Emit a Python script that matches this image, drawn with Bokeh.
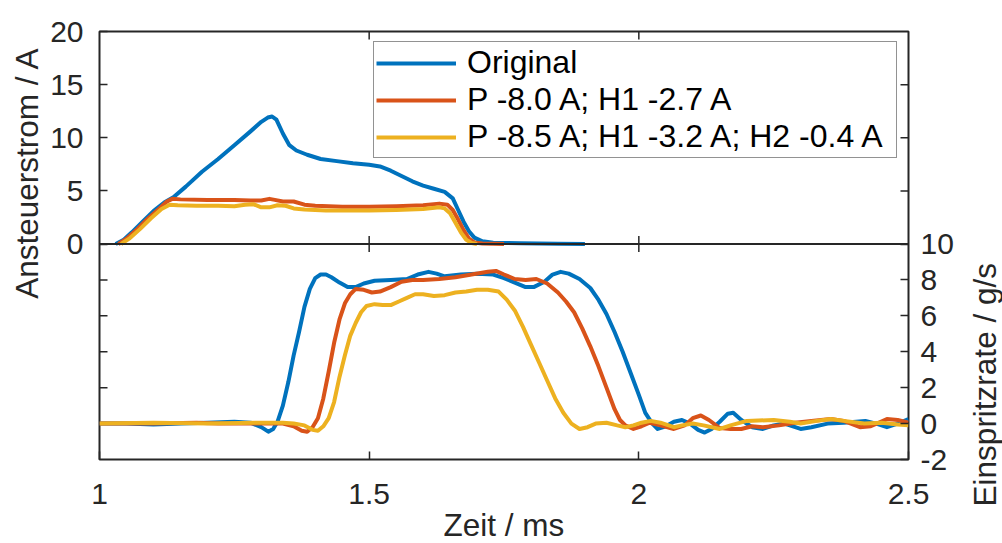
from bokeh.plotting import figure
from bokeh.models import (LinearAxis, Range1d, FixedTicker, Legend, LegendItem, Span,
                          CustomJSTickFormatter)
from bokeh.layouts import row
from bokeh.core.properties import value
from bokeh.embed import file_html
from bokeh.resources import INLINE

# ---------------- data ----------------
series_names = ["Original", "P -8.0 A; H1 -2.7 A", "P -8.5 A; H1 -3.2 A; H2 -0.4 A"]
colors = ["#0072BD", "#D95319", "#EDB120"]
y_title_top = "Ansteuerstrom / A"
y_title_bottom = "Einspritzrate / g/s"
x_title = "Zeit / ms"

# Ansteuerstrom (A) vs Zeit (ms)
t_cur_orig = [1.03, 1.045, 1.06, 1.08, 1.10, 1.12, 1.137, 1.16, 1.19, 1.22, 1.25, 1.28, 1.30, 1.312,
              1.32, 1.328, 1.34, 1.352, 1.365, 1.385, 1.41, 1.44, 1.47, 1.50, 1.52, 1.54, 1.56, 1.58, 1.60,
              1.62, 1.64, 1.655, 1.665, 1.675, 1.685, 1.695, 1.71, 1.73, 1.78, 1.85, 1.90]
i_orig = [0.0, 0.4, 1.1, 2.1, 3.1, 3.9, 4.4, 5.4, 6.8, 8.0, 9.3, 10.6, 11.5, 11.9,
          12.0, 11.7, 10.4, 9.3, 8.8, 8.4, 8.0, 7.8, 7.6, 7.45, 7.3, 6.9, 6.4, 5.9, 5.5,
          5.2, 4.9, 4.3, 3.2, 2.1, 1.2, 0.6, 0.25, 0.12, 0.06, 0.02, 0.0]

t_cur_p80 = [1.035, 1.05, 1.07, 1.09, 1.11, 1.125, 1.135, 1.15, 1.20, 1.25, 1.28, 1.30, 1.315, 1.325,
             1.34, 1.36, 1.38, 1.40, 1.45, 1.50, 1.55, 1.60, 1.63, 1.645, 1.655, 1.665, 1.675, 1.685,
             1.695, 1.71, 1.75]
i_p80 = [0.0, 0.5, 1.4, 2.4, 3.3, 4.0, 4.25, 4.2, 4.15, 4.15, 4.1, 4.1, 4.25, 4.15,
         4.0, 4.0, 3.7, 3.6, 3.5, 3.5, 3.55, 3.65, 3.8, 3.7, 3.2, 2.3, 1.3, 0.5,
         0.15, 0.05, 0.0]

t_cur_p85 = [1.04, 1.055, 1.075, 1.095, 1.115, 1.13, 1.145, 1.18, 1.22, 1.25, 1.27, 1.285, 1.30, 1.315,
             1.33, 1.345, 1.36, 1.38, 1.42, 1.50, 1.55, 1.60, 1.63, 1.64, 1.65, 1.66, 1.67, 1.68, 1.69,
             1.70]
i_p85 = [0.0, 0.5, 1.4, 2.4, 3.3, 3.7, 3.65, 3.6, 3.6, 3.55, 3.7, 3.75, 3.45, 3.45,
         3.65, 3.6, 3.35, 3.25, 3.15, 3.15, 3.2, 3.3, 3.45, 3.35, 2.9, 2.0, 1.1, 0.4, 0.1,
         0.0]

# Einspritzrate (g/s) vs Zeit (ms)
t_rate_orig = [1.00, 1.05, 1.10, 1.15, 1.20, 1.25, 1.28, 1.30, 1.313, 1.322, 1.33, 1.34, 1.35, 1.36, 1.37,
               1.38, 1.39, 1.40, 1.41, 1.42, 1.43, 1.445, 1.46, 1.475, 1.49, 1.51, 1.54, 1.57, 1.59, 1.61,
               1.625, 1.64, 1.67, 1.70, 1.73, 1.75, 1.77, 1.79, 1.805, 1.825, 1.84, 1.855, 1.87, 1.89,
               1.91, 1.925, 1.94, 1.955, 1.97, 1.985, 2.00, 2.012, 2.025, 2.035, 2.05, 2.065, 2.08, 2.095,
               2.11, 2.122, 2.135, 2.15, 2.165, 2.175, 2.19, 2.21, 2.23, 2.25, 2.27, 2.30, 2.32, 2.35,
               2.38, 2.42, 2.44, 2.46, 2.48, 2.50]
r_orig = [0.0, 0.0, -0.05, 0.0, 0.05, 0.1, 0.05, -0.2, -0.45, -0.3, 0.1, 1.0, 2.3, 3.8, 5.1,
          6.5, 7.5, 8.1, 8.3, 8.3, 8.15, 7.85, 7.6, 7.6, 7.8, 7.95, 8.0, 8.05, 8.3, 8.45,
          8.35, 8.2, 8.3, 8.35, 8.3, 8.1, 7.85, 7.6, 7.6, 7.9, 8.3, 8.45, 8.35, 8.05,
          7.55, 6.9, 6.1, 5.1, 4.0, 2.8, 1.6, 0.6, 0.0, -0.3, -0.15, 0.1, 0.2, 0.0,
          -0.35, -0.5, -0.3, 0.1, 0.55, 0.6, 0.2, -0.2, -0.3, -0.1, 0.0, -0.3, -0.2, 0.0,
          0.05, 0.15, 0.0, -0.2, 0.0, 0.25]

t_rate_p80 = [1.00, 1.10, 1.18, 1.22, 1.30, 1.34, 1.36, 1.375, 1.385, 1.395, 1.405, 1.415, 1.425, 1.435,
              1.445, 1.455, 1.465, 1.475, 1.49, 1.505, 1.52, 1.54, 1.56, 1.58, 1.60, 1.63, 1.66, 1.69,
              1.72, 1.735, 1.75, 1.77, 1.79, 1.81, 1.83, 1.85, 1.865, 1.88, 1.895, 1.91, 1.925, 1.94,
              1.955, 1.965, 1.975, 1.99, 2.005, 2.02, 2.04, 2.065, 2.085, 2.10, 2.115, 2.13, 2.15, 2.17,
              2.19, 2.21, 2.23, 2.26, 2.29, 2.32, 2.356, 2.38, 2.41, 2.43, 2.46, 2.48, 2.50]
r_p80 = [0.0, 0.0, 0.05, 0.0, 0.0, 0.0, -0.15, -0.4, -0.45, -0.2, 0.3, 1.4, 2.9, 4.5,
         5.8, 6.7, 7.2, 7.5, 7.45, 7.3, 7.35, 7.6, 7.9, 8.0, 8.0, 8.05, 8.15, 8.3,
         8.45, 8.5, 8.3, 8.05, 8.0, 8.05, 7.8, 7.3, 6.8, 6.2, 5.3, 4.3, 3.2, 2.0,
         0.8, 0.2, -0.1, -0.3, -0.15, 0.05, -0.1, -0.3, -0.1, 0.3, 0.45, 0.2, -0.25, -0.3,
         -0.3, -0.15, -0.2, -0.1, 0.05, 0.15, 0.25, 0.15, -0.2, -0.15, 0.25, 0.2, 0.05]

t_rate_p85 = [1.00, 1.10, 1.20, 1.30, 1.34, 1.36, 1.38, 1.395, 1.405, 1.415, 1.425, 1.435, 1.445, 1.455,
              1.465, 1.475, 1.485, 1.495, 1.51, 1.525, 1.54, 1.555, 1.57, 1.585, 1.60, 1.62, 1.64, 1.66,
              1.68, 1.70, 1.72, 1.74, 1.755, 1.77, 1.785, 1.80, 1.815, 1.83, 1.845, 1.86, 1.875, 1.89,
              1.905, 1.92, 1.94, 1.96, 1.975, 1.99, 2.005, 2.022, 2.04, 2.065, 2.08, 2.10, 2.12, 2.15,
              2.17, 2.20, 2.25, 2.28, 2.30, 2.33, 2.356, 2.38, 2.418, 2.45, 2.48, 2.50]
r_p85 = [0.0, 0.05, 0.0, 0.05, 0.05, 0.0, -0.1, -0.35, -0.4, -0.15, 0.3, 1.2, 2.6, 3.8,
         4.9, 5.6, 6.2, 6.55, 6.65, 6.6, 6.6, 6.8, 7.0, 7.2, 7.2, 7.1, 7.15, 7.3,
         7.35, 7.45, 7.45, 7.35, 6.9, 6.3, 5.4, 4.4, 3.4, 2.4, 1.4, 0.6, 0.0, -0.3,
         -0.2, 0.0, 0.05, -0.1, -0.2, -0.1, 0.05, 0.15, 0.05, -0.2, -0.1, 0.0, -0.1, -0.3,
         -0.1, 0.15, 0.2, 0.1, 0.0, 0.15, 0.25, 0.15, 0.0, 0.05, -0.05, -0.1]

x_ticks = [1, 1.5, 2, 2.5]
cur_ticks = [0, 5, 10, 15, 20]
rate_ticks = [-2, 0, 2, 4, 6, 8, 10]

# ---------------- layout constants ----------------
FONT = "Liberation Sans"
AX_COLOR = "#262626"
FS = "30px"
LABEL_FS = "31.5px"
PAGE_H = 543
TOP_B = 31          # space above the frame
H_TOP = 212.5       # pixel height of upper panel
H_BOT = 215.5       # pixel height of lower panel
FRAME_W = 809
LEFT_W = 46         # strip holding left title
RIGHT_W = 38        # strip holding right title
MAIN_L = 53
MAIN_R = 56
TICK = 8

cur_lo, cur_hi = cur_ticks[0], cur_ticks[-1]
rate_lo, rate_hi = rate_ticks[0], rate_ticks[-1]
cur_bottom = cur_lo - (cur_hi - cur_lo) * H_BOT / H_TOP
rate_top = rate_hi + (rate_hi - rate_lo) * H_TOP / H_BOT

p = figure(frame_width=FRAME_W, frame_height=int(H_TOP + H_BOT),
           x_range=Range1d(x_ticks[0], x_ticks[-1]),
           y_range=Range1d(rate_lo, rate_top),
           extra_y_ranges={"cur": Range1d(cur_bottom, cur_hi)},
           x_axis_location=None, y_axis_location=None,
           min_border_left=MAIN_L, min_border_right=MAIN_R, min_border_top=TOP_B,
           min_border_bottom=PAGE_H - TOP_B - int(H_TOP + H_BOT),
           output_backend="svg", toolbar_location=None)
p.grid.visible = False
p.outline_line_color = AX_COLOR
p.outline_line_width = 2
p.background_fill_color = "white"
p.border_fill_color = "white"


def style_axis(ax, standoff):
    ax.axis_line_color = None
    ax.major_tick_in = TICK
    ax.major_tick_out = 0
    ax.minor_tick_in = 0
    ax.minor_tick_out = 0
    ax.major_tick_line_color = AX_COLOR
    ax.major_tick_line_width = 1.5
    ax.major_label_text_font = FONT
    ax.major_label_text_font_size = FS
    ax.major_label_text_color = AX_COLOR
    ax.major_label_standoff = standoff
    return ax


plain_fmt = CustomJSTickFormatter(code="return String(tick);")
left_ax = style_axis(LinearAxis(y_range_name="cur", ticker=FixedTicker(ticks=cur_ticks), formatter=plain_fmt), 16)
right_ax = style_axis(LinearAxis(ticker=FixedTicker(ticks=rate_ticks), formatter=plain_fmt), 12)
below_ax = style_axis(LinearAxis(ticker=FixedTicker(ticks=x_ticks), formatter=plain_fmt), 24)
below_ax.axis_label = x_title
below_ax.axis_label_text_font = FONT
below_ax.axis_label_text_font_size = LABEL_FS
below_ax.axis_label_text_font_style = "normal"
below_ax.axis_label_text_color = AX_COLOR
below_ax.axis_label_standoff = 0
p.add_layout(left_ax, "left")
p.add_layout(right_ax, "right")
p.add_layout(below_ax, "below")

# boundary between the two panels
p.add_layout(Span(location=cur_lo, dimension="width", y_range_name="cur",
                  line_color=AX_COLOR, line_width=2))

# mirrored inward ticks (box on)
x_inner = x_ticks[1:-1]
tick_kw = dict(length=TICK, length_units="screen", angle_units="deg",
               line_color=AX_COLOR, line_width=1.5)
p.ray(x=x_inner, y=[cur_hi] * len(x_inner), angle=-90, y_range_name="cur", **tick_kw)
p.ray(x=x_inner, y=[cur_lo] * len(x_inner), angle=90, y_range_name="cur", **tick_kw)
p.ray(x=[x_ticks[-1]] * (len(cur_ticks) - 2), y=cur_ticks[1:-1], angle=180, y_range_name="cur", **tick_kw)
p.ray(x=x_inner, y=[rate_hi] * len(x_inner), angle=-90, **tick_kw)
p.ray(x=[x_ticks[0]] * (len(rate_ticks) - 2), y=rate_ticks[1:-1], angle=0, **tick_kw)

# curves
r1 = p.line(t_cur_orig, i_orig, y_range_name="cur", line_color=colors[0], line_width=4, line_join="round")
r2 = p.line(t_cur_p80, i_p80, y_range_name="cur", line_color=colors[1], line_width=4, line_join="round")
r3 = p.line(t_cur_p85, i_p85, y_range_name="cur", line_color=colors[2], line_width=4, line_join="round")
p.line(t_rate_orig, r_orig, line_color=colors[0], line_width=4, line_join="round")
p.line(t_rate_p80, r_p80, line_color=colors[1], line_width=4, line_join="round")
p.line(t_rate_p85, r_p85, line_color=colors[2], line_width=4, line_join="round")

legend = Legend(items=[LegendItem(label=series_names[0], renderers=[r1]),
                       LegendItem(label=series_names[1], renderers=[r2]),
                       LegendItem(label=series_names[2], renderers=[r3])],
                location=(274, 301))
legend.label_text_font = FONT
legend.label_text_font_size = "32px"
legend.label_text_color = "black"
legend.glyph_width = 80
legend.glyph_height = 30
legend.label_height = 30
legend.label_width = 427
legend.label_standoff = 11
legend.spacing = 0
legend.padding = 2
legend.margin = 0
legend.border_line_color = AX_COLOR
legend.border_line_width = 1
legend.background_fill_color = "white"
legend.background_fill_alpha = 1
p.add_layout(legend)


# ---------------- side strips carrying the rotated y titles ----------------
def title_strip(width, text, x_center, y_center):
    s = figure(frame_width=width, frame_height=PAGE_H,
               x_range=Range1d(0, width), y_range=Range1d(PAGE_H, 0),
               x_axis_location=None, y_axis_location=None,
               min_border_left=0, min_border_right=0, min_border_top=0, min_border_bottom=0,
               output_backend="svg", toolbar_location=None)
    s.grid.visible = False
    s.outline_line_color = None
    s.background_fill_color = "white"
    s.border_fill_color = "white"
    s.text(x=[x_center], y=[y_center], text=[text], angle=90, angle_units="deg",
           text_align="center", text_baseline="middle",
           text_font=value(FONT), text_font_size=value(LABEL_FS), text_color=AX_COLOR)
    return s


left_strip = title_strip(LEFT_W, y_title_top, 26, TOP_B + H_TOP / 2 + 4)
right_strip = title_strip(RIGHT_W, y_title_bottom, 20, TOP_B + H_TOP + H_BOT / 2 + 2)

layout = row(left_strip, p, right_strip, spacing=0)
open("out.html", "w").write(file_html(layout, INLINE))
